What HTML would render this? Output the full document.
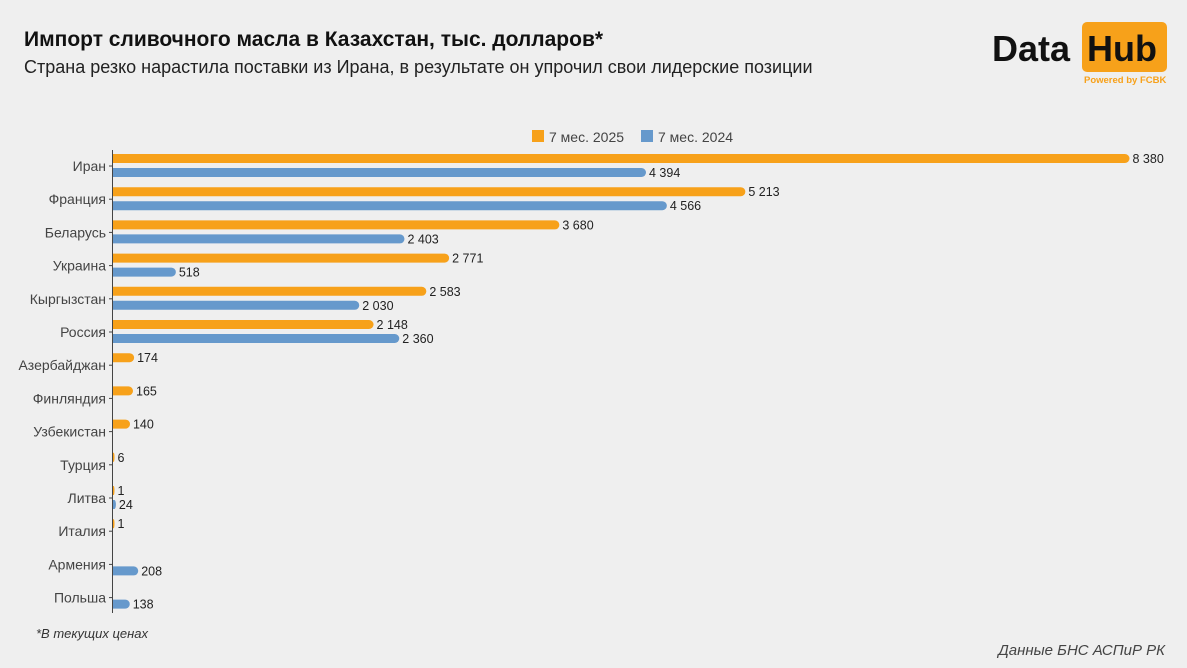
<!DOCTYPE html><html><head><meta charset="utf-8"><style>
body{margin:0;width:1187px;height:663px;background:#efefef;overflow:hidden;font-family:"Liberation Sans",Arial,sans-serif}
</style></head><body>
<svg width="1187" height="663" xmlns="http://www.w3.org/2000/svg" font-family="Liberation Sans, Arial, sans-serif">
<rect width="1187" height="663" fill="#efefef"/>
<text x="24" y="46" font-size="21" font-weight="bold" fill="#111">Импорт сливочного масла в Казахстан, тыс. долларов*</text>
<text x="24" y="73" font-size="18" fill="#222">Страна резко нарастила поставки из Ирана, в результате он упрочил свои лидерские позиции</text>
<text x="992" y="61" font-size="36" font-weight="bold" fill="#111">Data</text>
<rect x="1082" y="22" width="85" height="50" rx="5" fill="#f7a11a"/>
<text x="1087" y="61" font-size="36" font-weight="bold" fill="#111">Hub</text>
<text x="1084" y="83" font-size="9.5" font-weight="bold" fill="#f7a11a">Powered by FCBK</text>
<rect x="532" y="130" width="12" height="12" fill="#f7a11a"/>
<text x="549" y="142" font-size="14" fill="#444">7 мес. 2025</text>
<rect x="641" y="130" width="12" height="12" fill="#6699cc"/>
<text x="658" y="142" font-size="14" fill="#444">7 мес. 2024</text>
<line x1="112.5" y1="150" x2="112.5" y2="613" stroke="#444" stroke-width="1"/>
<g id="c"></g>
<text x="36" y="638" font-size="13" font-style="italic" fill="#333">*В текущих ценах</text>
<text x="1165" y="655" font-size="15" font-style="italic" fill="#444" text-anchor="end">Данные БНС АСПиР РК</text>
</svg>
<script>
var d=[["Иран",8380,4394],["Франция",5213,4566],["Беларусь",3680,2403],["Украина",2771,518],["Кыргызстан",2583,2030],["Россия",2148,2360],["Азербайджан",174,null],["Финляндия",165,null],["Узбекистан",140,null],["Турция",6,null],["Литва",1,24],["Италия",1,null],["Армения",null,208],["Польша",null,138]];
var s="",k=0.1213,x0=113;
function f(v){return String(v).replace(/\B(?=(\d{3})+(?!\d))/g," ")}
function bar(v,y,col){var w=Math.max(v*k,1.5);var r=Math.min(4.5,w/2);
return '<path d="M'+x0+' '+y+'h'+(w-r)+'a'+r+' 4.5 0 0 1 0 9h-'+(w-r)+'z" fill="'+col+'"/><text x="'+(x0+w+3)+'" y="'+(y+9)+'" font-size="12.5" fill="#222">'+f(v)+'</text>';}
d.forEach(function(r,i){var c=166+i*33.2;
s+='<text x="106" y="'+(c+5)+'" font-size="14" fill="#444" text-anchor="end">'+r[0]+'</text><line x1="109" x2="112" y1="'+c+'" y2="'+c+'" stroke="#444"/>';
if(r[1]!=null)s+=bar(r[1],c-12,"#f7a11a");
if(r[2]!=null)s+=bar(r[2],c+2,"#6699cc");});
document.getElementById("c").innerHTML=s;
</script>
</body></html>
